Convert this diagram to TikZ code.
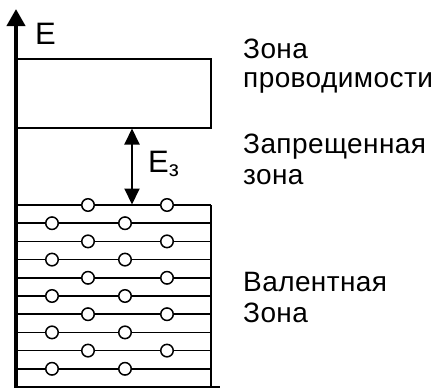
\documentclass[tikz,border=0pt]{standalone}
\usepackage{fontspec}
\setmainfont{Liberation Sans}
\usetikzlibrary{arrows.meta}
\tikzset{
  axisline/.style={line width=4pt,-{Triangle[width=18pt,length=17pt]}},
  bandline/.style={line width=1.5pt},
  gaparrow/.style={line width=2pt,{Triangle[width=15pt,length=16pt]}-{Triangle[width=15pt,length=16pt]}},
  hole/.style={circle,draw,fill=white,line width=1.5pt,minimum size=12.5pt,inner sep=0pt},
  lbl/.style={anchor=base west,inner sep=0pt,font=\fontsize{28}{30}\selectfont\addfontfeatures{LetterSpace=1.5}},
  biglbl/.style={anchor=base west,inner sep=0pt,font=\fontsize{31}{33}\selectfont}
}
\begin{document}
\begin{tikzpicture}[x=1pt,y=-1pt]
\useasboundingbox (0,0) rectangle (439,388);
% conduction band
\draw[bandline] (16,59) rectangle (211,128);
% valence band lines
\foreach \i in {0,...,9}{
  \draw[bandline] (16,{205+18.2*\i}) -- (211,{205+18.2*\i});
}
\draw[bandline] (16,387) -- (220,387);
\draw[bandline] (211,205) -- (211,388);
% holes
\foreach \i in {0,2,4,6,8}{
  \node[hole] (ha\i) at (88,{205+18.2*\i}) {};
  \node[hole] (hb\i) at (167,{205+18.2*\i}) {};
}
\foreach \i in {1,3,5,7,9}{
  \node[hole] (ha\i) at (52,{205+18.2*\i}) {};
  \node[hole] (hb\i) at (125,{205+18.2*\i}) {};
}
% energy axis
\coordinate (axbot) at (16,390);
\coordinate (axtop) at (16,9);
\draw[axisline] (axbot) -- (axtop);
\node[biglbl] (E) at (35,44) {E};
% band gap
\coordinate (gtop) at (132,128.5);
\coordinate (gbot) at (132,204.5);
\draw[gaparrow] (gtop) -- (gbot);
\node[biglbl] (Eg) at (148,172) {E\raisebox{-4pt}{\fontsize{22}{22}\selectfont з}};
% labels
\node[lbl] (t1) at (243,58) {Зона};
\node[lbl] (t2) at (243,87) {проводимости};
\node[lbl] (t3) at (243,153) {Запрещенная};
\node[lbl] (t4) at (243,184) {зона};
\node[lbl] (t5) at (243,291) {Валентная};
\node[lbl] (t6) at (243,322) {Зона};
\end{tikzpicture}
\end{document}
